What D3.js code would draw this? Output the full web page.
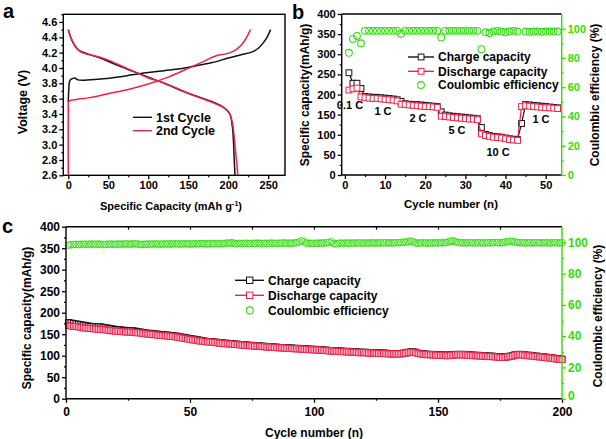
<!DOCTYPE html>
<html><head><meta charset="utf-8">
<script src="https://cdn.jsdelivr.net/npm/d3@7"></script>
<style>body{margin:0;background:#fff}svg{display:block}</style>
</head><body>
<script>
// ---------- Panel a: voltage profiles ----------
const c1ChargeCap = [0, 0.5, 1.5, 3, 5, 8, 12, 20, 40, 60, 80, 100, 120, 140, 160, 180, 200, 215, 230, 238, 244, 249, 253];
const c1ChargeV   = [3.55, 3.70, 3.82, 3.85, 3.86, 3.87, 3.845, 3.84, 3.855, 3.88, 3.91, 3.94, 3.965, 3.99, 4.03, 4.07, 4.13, 4.17, 4.21, 4.26, 4.33, 4.41, 4.5];
const c1DischCap  = [0, 5, 12, 25, 40, 60, 80, 100, 120, 150, 180, 195, 202, 205, 206.5, 207.5, 208.5];
const c1DischV    = [4.5, 4.35, 4.24, 4.18, 4.13, 4.04, 3.96, 3.88, 3.80, 3.67, 3.56, 3.48, 3.40, 3.25, 3.05, 2.8, 2.6];
const c2ChargeCap = [0, 0, 0.5, 2, 10, 25, 50, 75, 100, 125, 150, 170, 185, 200, 210, 218, 223, 228];
const c2ChargeV   = [2.6, 3.4, 3.56, 3.575, 3.59, 3.61, 3.665, 3.72, 3.79, 3.88, 3.995, 4.09, 4.16, 4.19, 4.24, 4.32, 4.4, 4.5];
const c2DischCap  = [0, 3, 8, 13, 20, 30, 40, 55, 70, 85, 100, 115, 130, 150, 170, 185, 195, 201, 205, 207.5, 209.5, 211, 212];
const c2DischV    = [4.5, 4.4, 4.3, 4.23, 4.19, 4.165, 4.14, 4.08, 4.01, 3.94, 3.87, 3.82, 3.76, 3.67, 3.59, 3.53, 3.48, 3.42, 3.30, 3.10, 2.88, 2.72, 2.6];
const aXTicks = [0, 50, 100, 150, 200, 250];
const aYTicks = [2.6, 2.8, 3.0, 3.2, 3.4, 3.6, 3.8, 4.0, 4.2, 4.4, 4.6];

// ---------- Panel b: rate capability ----------
const bCycles = d3.range(1, 54);
const bCharge = [254,228,228,215,195,194,193,193,192,191,190,189,187,183,177,176,175,175,174,173,172,171,170,157,149,147,146,145,144,143,142,141,140,118,101,98,96,95,94,92,90,89,88,128,175,174,173,172,171,170,169,168,167];
const bDischarge = [211,214,216,194,192,191,190,190,189,188,187,186,184,176,175,174,173,172,171,170,170,169,168,146,145,144,143,142,141,140,139,139,137,102,98,96,94,93,92,90,88,87,86,170,172,171,170,169,168,167,167,166,165];
const bCE = [83.5,93,95,90,98.5,98.5,98.5,98.5,98.5,98.5,98.5,98.5,98.5,96.5,98.5,98.5,98.5,98.5,98.5,98.5,98.5,98.5,98.5,94,98.5,98.5,98.5,98.5,98.5,98.5,98.5,98.5,98.5,86,97.5,97,98,98.5,98,97.5,98,98.5,98,null,98,97.8,98,98,97.8,98,98,98,98];
const bRates = ["0.1 C", "1 C", "2 C", "5 C", "10 C", "1 C"];
const bXTicks = [0, 10, 20, 30, 40, 50];

// ---------- Panel c: long cycling ----------
const cCycles = d3.range(1, 201);
const cCharge = [177,176,175,174,173,172,171,170,169,168,
168,167,167,167,166,165,164,163,162,161,
161,160,159,159,158,158,158,157,156,155,
154,153,152,152,151,151,150,149,149,148,
148,147,147,146,145,144,143,142,141,140,
139,138,137,136,135,134,133,133,132,132,
131,130,130,129,129,128,128,127,127,126,
126,125,125,124,124,123,123,123,122,122,
121,121,121,120,120,119,119,119,118,118,
118,117,117,117,116,116,116,115,115,115,
114,114,114,113,113,112,112,112,111,111,
111,110,110,110,109,109,109,108,108,108,
108,107,107,107,107,106,106,106,106,105,
105,105,105,105,105,106,107,108,109,109,
108,106,105,104,104,103,103,103,102,102,
102,102,101,101,102,102,103,103,103,103,
103,102,102,101,101,101,100,100,100,99,
99,99,98,98,97,97,97,98,99,100,
102,103,103,103,102,101,101,100,99,99,
98,98,97,96,96,95,94,93,93,92];
const cDischarge = [170,169,168,168,167,166,165,164,164,163,
163,162,162,161,161,160,159,158,158,157,
157,156,156,155,155,155,154,154,153,153,
152,151,150,150,149,149,148,147,147,146,
146,145,145,144,143,142,141,140,139,138,
137,136,135,134,134,133,132,132,131,131,
130,129,129,128,128,127,127,126,126,125,
125,124,124,123,123,122,122,122,121,121,
120,120,120,119,119,118,118,118,117,117,
117,116,116,116,115,115,115,114,114,114,
113,113,113,112,112,111,111,111,110,110,
110,109,109,109,108,108,108,107,107,107,
107,106,106,106,106,105,105,105,105,104,
104,104,104,104,104,105,106,107,108,108,
107,105,104,103,103,102,102,102,101,101,
101,101,100,100,101,101,102,102,102,102,
102,101,101,100,100,100,99,99,99,98,
98,98,97,97,96,96,96,97,98,99,
101,102,102,102,101,100,100,99,98,98,
97,97,96,95,95,94,93,92,92,91];
const cCE = [98.2,98.5,98.6,98.7,98.6,98.8,98.7,98.8,98.7,98.9,
98.8,98.7,98.9,98.8,98.6,98.7,98.8,98.9,98.7,98.8,
98.9,98.8,98.9,99.0,98.9,98.8,99.1,99.0,98.9,98.6,
98.7,98.8,98.9,98.8,98.9,99.0,98.9,98.8,98.9,99.0,
98.9,99.0,98.9,99.1,99.0,98.9,99.0,99.1,99.0,98.9,
99.0,99.1,99.0,99.1,99.2,99.1,99.0,99.1,99.2,99.1,
99.2,99.1,99.3,99.2,99.6,99.4,99.8,99.2,99.1,99.3,
99.2,99.4,99.3,99.2,99.4,99.3,99.5,99.4,99.3,99.4,
99.3,99.4,99.5,99.4,99.3,99.4,99.5,99.6,99.4,99.5,
99.4,99.6,99.8,100.2,100.9,100.4,99.5,99.4,99.3,99.4,
99.5,99.4,99.6,99.5,99.7,99.9,100.3,99.2,99.0,99.4,
99.5,99.4,99.6,99.5,99.4,99.6,99.5,99.7,99.6,99.5,
99.6,99.5,99.7,99.6,99.5,99.7,99.6,99.8,99.7,99.6,
99.7,99.6,99.8,99.7,99.9,100.0,100.2,100.5,100.8,100.3,
99.6,99.5,99.6,99.7,99.6,99.5,99.7,99.6,99.7,99.6,
99.8,99.7,99.9,100.2,100.6,101.0,100.4,99.9,99.8,99.7,
99.6,99.7,99.8,99.7,99.6,99.8,99.7,99.6,99.7,99.8,
99.7,99.8,99.9,99.8,99.7,99.9,100.1,100.4,100.7,100.5,
100.2,99.9,99.7,99.8,99.6,99.7,99.8,99.6,99.7,99.8,
99.7,99.6,99.8,99.7,99.6,99.7,99.8,99.7,99.6,99.7];
const cXTicks = [0, 50, 100, 150, 200];
const capTicks = [0, 50, 100, 150, 200, 250, 300, 350, 400];
const ceTicks = [0, 20, 40, 60, 80, 100];
const legendLabels = ["Charge capacity", "Discharge capacity", "Coulombic efficiency"];

// ---------- drawing ----------
const FONT = '"Liberation Sans", Arial, Helvetica, sans-serif';
const RED = "#ee2248", GREEN = "#33dd11", GREENAX = "#33dd00";
const svg = d3.select("body").append("svg").attr("width", 606).attr("height", 439)
  .attr("font-family", FONT).attr("font-weight", "bold");

function axis(orient, scale, pos, major, minor, fmt, color, fs, txtColor, pad) {
  const mk = {bottom: d3.axisBottom, top: d3.axisTop, left: d3.axisLeft, right: d3.axisRight}[orient];
  const tr = (orient === "bottom" || orient === "top") ? `translate(0,${pos})` : `translate(${pos},0)`;
  const g = svg.append("g").attr("transform", tr)
    .call(mk(scale).tickValues(major).tickSize(4).tickPadding(pad || 2).tickFormat(fmt));
  g.attr("font-family", FONT).attr("font-size", fs).attr("font-weight", "bold");
  g.select(".domain").remove();
  g.selectAll("line").attr("stroke", color).attr("stroke-width", 1.3);
  g.selectAll("text").attr("fill", txtColor || "#000");
  if (minor) {
    const m = svg.append("g").attr("transform", tr)
      .call(mk(scale).tickValues(minor).tickSize(2).tickFormat(""));
    m.select(".domain").remove();
    m.selectAll("line").attr("stroke", color).attr("stroke-width", 1.2);
  }
  return g;
}
function frameLine(x1, y1, x2, y2, c) {
  svg.append("line").attr("x1", x1).attr("y1", y1).attr("x2", x2).attr("y2", y2)
    .attr("stroke", c).attr("stroke-width", 1.4);
}
function title(txt, x, y, fs, rot, anchor) {
  const t = svg.append("text").attr("x", x).attr("y", y).attr("font-size", fs)
    .attr("text-anchor", anchor || "middle").text(txt);
  if (rot) t.attr("transform", `rotate(-90,${x},${y})`);
  return t;
}
function squares(sel, data, xs, ys, key, color, size, fill) {
  sel.selectAll(null).data(data).join("rect")
    .attr("x", d => xs(d.x) - size / 2).attr("y", d => ys(d[key]) - size / 2)
    .attr("width", size).attr("height", size)
    .attr("fill", fill).attr("stroke", color).attr("stroke-width", 1);
}

// ===== Panel a =====
const ax = d3.scaleLinear().domain([-6.25, 271]).range([63.3, 285]);
const ay = d3.scaleLinear().domain([2.6, 4.7]).range([175.3, 14.3]);
svg.append("rect").attr("x", 63.3).attr("y", 14.3).attr("width", 285 - 63.3).attr("height", 175.3 - 14.3)
  .attr("fill", "none").attr("stroke", "#000").attr("stroke-width", 1.4);
axis("bottom", ax, 175.3, aXTicks, [25, 75, 125, 175, 225], d3.format("d"), "#000", 11);
axis("left", ay, 63.3, aYTicks, d3.range(2.7, 4.75, 0.2), d3.format(".1f"), "#000", 11);
const aLine = d3.line().x(d => ax(d[0])).y(d => ay(d[1])).curve(d3.curveCatmullRom.alpha(0.5));
const zip = (a, b) => a.map((v, i) => [v, b[i]]);
svg.append("path").attr("d", aLine(zip(c1DischCap, c1DischV))).attr("fill", "none").attr("stroke", "#111").attr("stroke-width", 1.5);
svg.append("path").attr("d", aLine(zip(c1ChargeCap, c1ChargeV))).attr("fill", "none").attr("stroke", "#111").attr("stroke-width", 1.5);
svg.append("path").attr("d", aLine(zip(c2ChargeCap, c2ChargeV))).attr("fill", "none").attr("stroke", RED).attr("stroke-width", 1.5);
svg.append("path").attr("d", aLine(zip(c2DischCap, c2DischV))).attr("fill", "none").attr("stroke", RED).attr("stroke-width", 1.5);
// legend a
[["1st Cycle", "#111", 117.3], ["2nd Cycle", RED, 130.7]].forEach(([t, c, y]) => {
  frameLine(133, y, 152, y, c);
  svg.append("text").attr("x", 156).attr("y", y + 4.5).attr("font-size", 12.5).text(t);
});
title("Voltage (V)", 27, 102, 12.5, true);
const axt = title("Specific Capacity (mAh g", 171, 210, 11);
axt.append("tspan").attr("font-size", 7).attr("dy", -4).text("-1");
axt.append("tspan").attr("dy", 4).text(")");
svg.append("text").attr("x", 3).attr("y", 18).attr("font-size", 20).text("a");

// ===== Panel b =====
const bx = d3.scaleLinear().domain([-0.8, 54]).range([341.7, 561.7]);
const by = d3.scaleLinear().domain([0, 400]).range([175, 14]);
const byr = d3.scaleLinear().domain([0, 110]).range([175, 14]);
const bData = bCycles.map((c, i) => ({x: c, ch: bCharge[i], dis: bDischarge[i], ce: bCE[i]}));
const bg = svg.append("g");
bg.append("path").attr("d", d3.line().x(d => bx(d.x)).y(d => by(d.ch))(bData)).attr("fill", "none").attr("stroke", "#111").attr("stroke-width", 1.2);
squares(bg, bData, bx, by, "ch", "#111", 5.8, "#fff");
bg.append("path").attr("d", d3.line().x(d => bx(d.x)).y(d => by(d.dis))(bData)).attr("fill", "none").attr("stroke", RED).attr("stroke-width", 1.2);
squares(bg, bData, bx, by, "dis", RED, 5.8, "#fff");
bg.selectAll(null).data(bData.filter(d => d.ce != null)).join("circle")
  .attr("cx", d => bx(d.x)).attr("cy", d => byr(d.ce)).attr("r", 3.4)
  .attr("fill", "none").attr("stroke", GREEN).attr("stroke-width", 1.1);
frameLine(341.7, 14, 561.7, 14, "#000");
frameLine(341.7, 14, 341.7, 175, "#000");
frameLine(341.7, 175, 561.7, 175, "#000");
frameLine(561.7, 14, 561.7, 175, GREENAX);
axis("bottom", bx, 175, bXTicks, [5, 15, 25, 35, 45], d3.format("d"), "#000", 11);
axis("left", by, 341.7, capTicks, d3.range(25, 400, 50), d3.format("d"), "#000", 11);
axis("right", byr, 561.7, ceTicks, d3.range(10, 110, 20), d3.format("d"), GREENAX, 11, GREENAX);
// rate labels
const rateX = [350, 383, 418, 457, 498, 541], rateY = [108.5, 115, 122, 134, 156, 123];
bRates.forEach((t, i) => svg.append("text").attr("x", rateX[i]).attr("y", rateY[i]).attr("font-size", 11).attr("text-anchor", "middle").text(t));
// legend b
const lbY = [57, 71.3, 85];
frameLine(408, lbY[0], 434, lbY[0], "#111");
svg.append("rect").attr("x", 418.2).attr("y", lbY[0] - 2.9).attr("width", 5.8).attr("height", 5.8).attr("fill", "#fff").attr("stroke", "#111");
frameLine(408, lbY[1], 434, lbY[1], RED);
svg.append("rect").attr("x", 418.2).attr("y", lbY[1] - 2.9).attr("width", 5.8).attr("height", 5.8).attr("fill", "#fff").attr("stroke", RED);
svg.append("circle").attr("cx", 421).attr("cy", lbY[2]).attr("r", 3.4).attr("fill", "none").attr("stroke", GREEN).attr("stroke-width", 1.1);
legendLabels.forEach((t, i) => svg.append("text").attr("x", 438).attr("y", lbY[i] + 4.2).attr("font-size", 12).text(t));
title("Specific capacity(mAh/g)", 309, 95, 12, true);
title("Coulombic efficiency (%)", 599, 95, 12, true);
title("Cycle number (n)", 451, 208, 11.5);
svg.append("text").attr("x", 292).attr("y", 19).attr("font-size", 20).text("b");

// ===== Panel c =====
const cx = d3.scaleLinear().domain([0, 200]).range([66, 562]);
const cy = d3.scaleLinear().domain([0, 400]).range([398.7, 226.7]);
const cyr = d3.scaleLinear().domain([0, 110]).range([398.7, 226.7]);
const cData = cCycles.map((c, i) => ({x: c, ch: cCharge[i], dis: cDischarge[i], ce: cCE[i]}));
const cg = svg.append("g");
cg.selectAll(null).data(cData).join("circle")
  .attr("cx", d => cx(d.x)).attr("cy", d => cyr(d.ce)).attr("r", 3.4)
  .attr("fill", "none").attr("stroke", GREEN).attr("stroke-width", 0.9);
cg.append("path").attr("d", d3.line().x(d => cx(d.x)).y(d => cy(d.ch))(cData)).attr("fill", "none").attr("stroke", "#111").attr("stroke-width", 1.5);
squares(cg, cData, cx, cy, "ch", "#111", 6, "#fff");
cg.append("path").attr("d", d3.line().x(d => cx(d.x)).y(d => cy(d.dis))(cData)).attr("fill", "none").attr("stroke", RED).attr("stroke-width", 1.5);
squares(cg, cData, cx, cy, "dis", RED, 6, "#f9b4c6");
frameLine(66, 226.7, 562, 226.7, "#000");
frameLine(66, 226.7, 66, 398.7, "#000");
frameLine(66, 398.7, 562, 398.7, "#000");
frameLine(562, 226.7, 562, 398.7, GREENAX);
axis("bottom", cx, 398.7, cXTicks, [25, 75, 125, 175], d3.format("d"), "#000", 12, null, 5);
const topT = svg.append("g").attr("transform", "translate(0,226.7)")
  .call(d3.axisTop(cx).tickValues([25, 50, 75, 100, 125, 150, 175]).tickSize(-3).tickFormat(""));
topT.select(".domain").remove(); topT.selectAll("line").attr("stroke", "#000").attr("stroke-width", 1.2);
axis("left", cy, 66, capTicks, d3.range(25, 400, 50), d3.format("d"), "#000", 12);
const rAx = axis("right", cyr, 562, ceTicks, d3.range(10, 110, 20), d3.format("d"), GREENAX, 12, GREENAX);
rAx.selectAll("text").filter(d => d === 0).attr("dy", "0.1em");
// legend c
const lcY = [280.3, 295.3, 310.4];
frameLine(235, lcY[0], 264, lcY[0], "#111");
svg.append("rect").attr("x", 246.5).attr("y", lcY[0] - 3.2).attr("width", 6.4).attr("height", 6.4).attr("fill", "#fff").attr("stroke", "#111");
frameLine(235, lcY[1], 264, lcY[1], RED);
svg.append("rect").attr("x", 246.5).attr("y", lcY[1] - 3.2).attr("width", 6.4).attr("height", 6.4).attr("fill", "#fff").attr("stroke", RED);
svg.append("circle").attr("cx", 249.8).attr("cy", lcY[2]).attr("r", 3.5).attr("fill", "none").attr("stroke", GREEN).attr("stroke-width", 1.1);
legendLabels.forEach((t, i) => svg.append("text").attr("x", 268).attr("y", lcY[i] + 4.5).attr("font-size", 12).text(t));
title("Specific capacity(mAh/g)", 31, 318, 12, true);
title("Coulombic efficiency (%)", 602, 316, 12, true);
title("Cycle number (n)", 314, 437, 12);
svg.append("text").attr("x", 2).attr("y", 233).attr("font-size", 20).text("c");
</script>
</body></html>
